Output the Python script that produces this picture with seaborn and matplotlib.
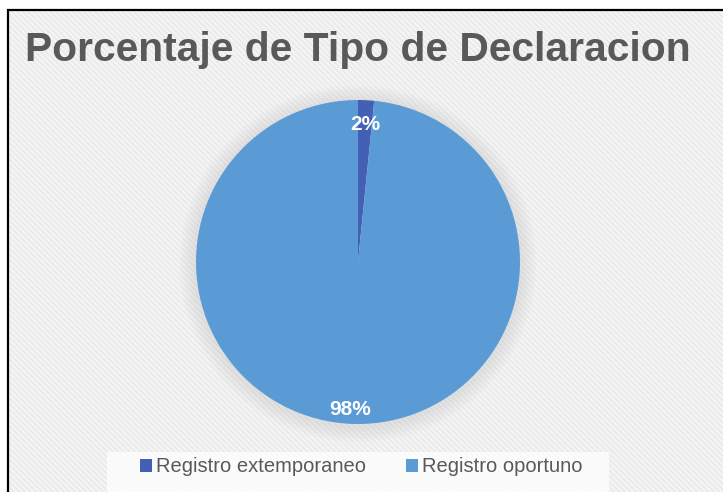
import matplotlib
matplotlib.use("Agg")
import matplotlib.pyplot as plt
import seaborn as sns
import numpy as np
from matplotlib.patches import Rectangle, Circle

categories = ["Registro extemporaneo", "Registro oportuno"]
values = [1.6, 98.4]
pct_labels = ["2%", "98%"]
colors = ["#4460B4", "#5B9BD5"]
title = "Porcentaje de Tipo de Declaracion"

sns.set_theme(style="white")
plt.rcParams['font.family'] = ['Liberation Sans', 'DejaVu Sans']

W, H = 723, 492
fig = plt.figure(figsize=(W / 100, H / 100), dpi=100)
fig.patch.set_facecolor("white")

# background with subtle diagonal stripes
x0, y0 = 8, 10
bg = Rectangle((x0 / W, -0.05), 1.1, 1 - y0 / H + 0.05,
               transform=fig.transFigure, facecolor="#f4f4f4",
               edgecolor="#e8e8e8", hatch="\\\\\\\\\\\\", linewidth=0, zorder=-5)
fig.patches.append(bg)
border = Rectangle((x0 / W, -0.05), 1.1, 1 - y0 / H + 0.05,
                   transform=fig.transFigure, facecolor="none",
                   edgecolor="black", linewidth=1.6, zorder=10)
fig.patches.append(border)
# legend band
band = Rectangle((107 / W, 1 - 492 / H), (609 - 107) / W, (492 - 452) / H,
                 transform=fig.transFigure, facecolor="white", alpha=0.75,
                 linewidth=0, zorder=-4)
fig.patches.append(band)

cx, cy, r = 358, 262, 162
ax = fig.add_axes([(cx - r) / W, 1 - (cy + r) / H, 2 * r / W, 2 * r / H])
ax.set_zorder(2)
ax.set_facecolor("none")
ax.patch.set_alpha(0)

# soft shadow
for i in range(5):
    ax.add_patch(Circle((0.0, -0.01), 1.0 + 0.02 * (i + 1), color="#a0a0a0",
                        alpha=0.045, lw=0, zorder=0, clip_on=False))

wedges, texts = ax.pie(values, colors=colors, startangle=90, counterclock=False,
                       radius=1.0, wedgeprops=dict(linewidth=0, zorder=2))
for w, lab in zip(wedges, pct_labels):
    ang = np.deg2rad((w.theta1 + w.theta2) / 2)
    d = 0.85 if lab == "2%" else 0.91
    ax.text(d * np.cos(ang), d * np.sin(ang), lab, ha="center", va="center",
            color="white", fontsize=15, fontweight="bold", zorder=5)
ax.set_xlim(-1, 1)
ax.set_ylim(-1, 1)
ax.set_aspect("equal")
ax.axis("off")

fig.text(25 / W, 1 - 50 / H, title, ha="left", va="center", fontsize=29.3,
         fontweight="bold", color="#595959", zorder=5)

leg = fig.legend(wedges, categories, loc="center", bbox_to_anchor=(361 / W, 1 - 467 / H),
                 ncol=2, frameon=False, fontsize=14.5, handlelength=0.6, handleheight=0.6,
                 handletextpad=0.2, columnspacing=2.0, borderpad=0.4)
leg.set_zorder(5)
for t in leg.get_texts():
    t.set_color("#595959")

fig.savefig("out.png", dpi=100)
